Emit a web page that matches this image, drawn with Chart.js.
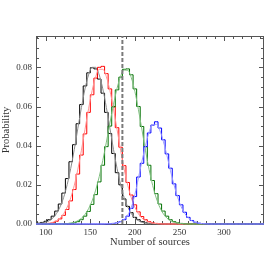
<!DOCTYPE html>
<html>
<head>
<meta charset="utf-8">
<script src="https://cdn.jsdelivr.net/npm/chart.js@4"></script>
<style>
  body { margin: 0; background: #fff; }
  canvas { display: block; }
</style>
</head>
<body>
<canvas id="chart" width="269" height="260"></canvas>
<script>
// bin centres (number of sources)
var bins = [88,92,96,100,104,108,112,116,120,124,
            128,132,136,140,144,148,152,156,160,164,
            168,172,176,180,184,188,192,196,200,204,
            208,212,216,220,224,228,232,236,240,244,
            248,252,256,260,264,268,272,276,280,284,
            288,292,296,300,304,308,312,316,320,324,
            328,332,336,340,344,348];

var blackHist = [0.0002,0.0004,0.0008,0.0014,0.0022,0.0040,0.0066,0.0102,0.0158,0.0232,
                 0.0318,0.0405,0.0512,0.0610,0.0705,0.0772,0.0798,0.0792,0.0740,0.0668,
                 0.0570,0.0462,0.0360,0.0262,0.0200,0.0128,0.0090,0.0058,0.0034,0.0022,
                 0.0012,0.0006,0.0003,0.0001,0,0,0,0,0,0,
                 0,0,0,0,0,0,0,0,0,0,
                 0,0,0,0,0,0,0,0,0,0,
                 0,0,0,0,0,0];
var blackFit = [0.0001,0.0002,0.0005,0.0009,0.0017,0.0031,0.0053,0.0087,0.0135,0.0201,
                0.0284,0.0381,0.0489,0.0595,0.0690,0.0761,0.0800,0.0800,0.0761,0.0690,
                0.0595,0.0489,0.0381,0.0284,0.0201,0.0135,0.0087,0.0053,0.0031,0.0017,
                0.0009,0.0005,0.0002,0.0001,0,0,0,0,0,0,
                0,0,0,0,0,0,0,0,0,0,
                0,0,0,0,0,0,0,0,0,0,
                0,0,0,0,0,0];

var redHist = [0,0,0.0001,0.0002,0.0003,0.0007,0.0014,0.0026,0.0044,0.0074,
               0.0118,0.0176,0.0255,0.0352,0.0460,0.0570,0.0660,0.0745,0.0800,0.0805,
               0.0768,0.0690,0.0600,0.0492,0.0392,0.0298,0.0212,0.0148,0.0098,0.0062,
               0.0038,0.0022,0.0012,0.0006,0.0003,0.0001,0,0,0,0,
               0,0,0,0,0,0,0,0,0,0,
               0,0,0,0,0,0,0,0,0,0,
               0,0,0,0,0,0];
var redFit = [0,0,0.0001,0.0002,0.0004,0.0009,0.0017,0.0030,0.0052,0.0086,
              0.0134,0.0198,0.0280,0.0377,0.0483,0.0588,0.0681,0.0752,0.0790,0.0790,
              0.0752,0.0681,0.0588,0.0483,0.0377,0.0280,0.0198,0.0134,0.0086,0.0052,
              0.0030,0.0017,0.0009,0.0004,0.0002,0.0001,0,0,0,0,
              0,0,0,0,0,0,0,0,0,0,
              0,0,0,0,0,0,0,0,0,0,
              0,0,0,0,0,0];

var greenHist = [0,0,0,0,0,0,0,0,0,0.0002,
                 0.0003,0.0006,0.0012,0.0022,0.0040,0.0064,0.0100,0.0150,0.0215,0.0300,
                 0.0395,0.0500,0.0598,0.0685,0.0750,0.0790,0.0792,0.0762,0.0690,0.0600,
                 0.0498,0.0395,0.0300,0.0222,0.0155,0.0102,0.0066,0.0040,0.0022,0.0012,
                 0.0006,0.0003,0.0001,0,0,0,0,0,0,0,
                 0,0,0,0,0,0,0,0,0,0,
                 0,0,0,0,0,0];
var greenFit = [0,0,0,0,0,0,0,0,0,0.0002,
                0.0005,0.0009,0.0017,0.0029,0.0049,0.0078,0.0118,0.0173,0.0242,0.0325,
                0.0418,0.0516,0.0610,0.0693,0.0754,0.0786,0.0785,0.0747,0.0677,0.0584,
                0.0480,0.0374,0.0278,0.0197,0.0133,0.0085,0.0052,0.0030,0.0017,0.0009,
                0.0005,0.0002,0.0001,0,0,0,0,0,0,0,
                0,0,0,0,0,0,0,0,0,0,
                0,0,0,0,0,0];

var blueHist = [0,0,0,0,0,0,0,0,0,0,
                0,0,0,0,0,0,0,0,0,0,
                0,0.0001,0.0003,0.0006,0.0012,0.0022,0.0040,0.0080,0.0140,0.0240,
                0.0310,0.0395,0.0465,0.0505,0.0522,0.0490,0.0430,0.0358,0.0285,0.0205,
                0.0145,0.0098,0.0060,0.0034,0.0018,0.0009,0.0004,0.0002,0.0001,0,
                0,0,0,0,0,0,0,0,0,0,
                0,0,0,0,0,0];
var blueFit = [0,0,0,0,0,0,0,0,0,0,
               0,0,0,0,0,0,0,0,0,0,
               0.0001,0.0001,0.0003,0.0007,0.0012,0.0024,0.0045,0.0085,0.0150,0.0235,
               0.0322,0.0400,0.0470,0.0508,0.0509,0.0478,0.0422,0.0350,0.0272,0.0199,
               0.0137,0.0088,0.0054,0.0031,0.0016,0.0008,0.0004,0.0002,0.0001,0,
               0,0,0,0,0,0,0,0,0,0,
               0,0,0,0,0,0];

// observed number (dashed line)
var observed = 186;

var xTicks = [100,150,200,250,300];
var yTicks = [0.00,0.02,0.04,0.06,0.08];

function pts(vals) {
  return bins.map(function (b, i) { return { x: b, y: vals[i] }; });
}

var clipBox = { left: 0, top: 0, right: 0, bottom: 1 };

function hist(vals, color) {
  return { data: pts(vals), borderColor: color, borderWidth: 1, stepped: 'middle', pointRadius: 0, fill: false, clip: clipBox };
}
function fit(vals, color) {
  return { data: pts(vals), borderColor: color, borderWidth: 1, tension: 0.4, cubicInterpolationMode: 'monotone', pointRadius: 0, fill: false, clip: clipBox };
}

// IDL-like frame with inward ticks on all four sides
var frameTicks = {
  id: 'frameTicks',
  beforeDatasetsDraw: function (chart) {
    var c = chart.ctx, a = chart.chartArea;
    var xs = chart.scales.x, ys = chart.scales.y;
    c.save();
    c.strokeStyle = '#555';
    c.lineWidth = 1;
    c.strokeRect(a.left + 0.5, a.top + 0.5, a.right - a.left - 1, a.bottom - a.top);
    c.beginPath();
    for (var v = 90; v <= 345; v += 10) {
      var px = Math.round(xs.getPixelForValue(v)) + 0.5;
      var len = (v % 50 === 0) ? 5 : 3;
      c.moveTo(px, a.bottom); c.lineTo(px, a.bottom - len);
      c.moveTo(px, a.top); c.lineTo(px, a.top + len);
    }
    for (var k = 0; k <= 19; k++) {
      var val = k * 0.005;
      var py = Math.round(ys.getPixelForValue(val)) + 0.5;
      var l2 = (k % 4 === 0) ? 5 : 3;
      c.moveTo(a.left, py); c.lineTo(a.left + l2, py);
      c.moveTo(a.right, py); c.lineTo(a.right - l2, py);
    }
    c.stroke();
    c.restore();
  }
};

var ctx = document.getElementById('chart');
var chart = new Chart(ctx, {
  type: 'line',
  data: {
    datasets: [
      { data: [{ x: observed, y: 0 }, { x: observed, y: 0.096 }], borderColor: '#7a7a7a', borderWidth: 2, borderDash: [4, 2], pointRadius: 0 },
      fit(blueFit, '#9b9bff'),
      hist(blueHist, '#0000ff'),
      fit(greenFit, '#80bf80'),
      hist(greenHist, '#007000'),
      fit(redFit, '#ff9494'),
      hist(redHist, '#ff0000'),
      fit(blackFit, '#8c8c8c'),
      hist(blackHist, '#000000')
    ]
  },
  options: {
    responsive: false,
    animation: false,
    layout: { padding: { top: 36, right: 5, left: 0, bottom: 0 } },
    plugins: { legend: { display: false }, tooltip: { enabled: false } },
    scales: {
      x: {
        type: 'linear',
        min: 89, max: 345,
        afterFit: function (s) { s.height = 36; },
        afterBuildTicks: function (s) { s.ticks = xTicks.map(function (v) { return { value: v }; }); },
        grid: { display: false, drawTicks: false },
        border: { display: false },
        ticks: { padding: 3, color: '#333', font: { family: 'Liberation Serif', size: 9 }, maxRotation: 0 },
        title: { display: true, text: 'Number of sources', color: '#333', font: { family: 'Liberation Serif', size: 10.5 }, padding: { top: 0, bottom: 11 } }
      },
      y: {
        min: 0, max: 0.096,
        afterFit: function (s) { s.width = 36; },
        afterBuildTicks: function (s) { s.ticks = yTicks.map(function (v) { return { value: v }; }); },
        grid: { display: false, drawTicks: false },
        border: { display: false },
        ticks: { padding: 4, color: '#333', font: { family: 'Liberation Serif', size: 9 }, callback: function (v) { return v.toFixed(2); } },
        title: { display: true, text: 'Probability', color: '#333', font: { family: 'Liberation Serif', size: 10.5 }, padding: { top: 0, bottom: 0 } }
      }
    }
  },
  plugins: [frameTicks]
});
</script>
</body>
</html>
